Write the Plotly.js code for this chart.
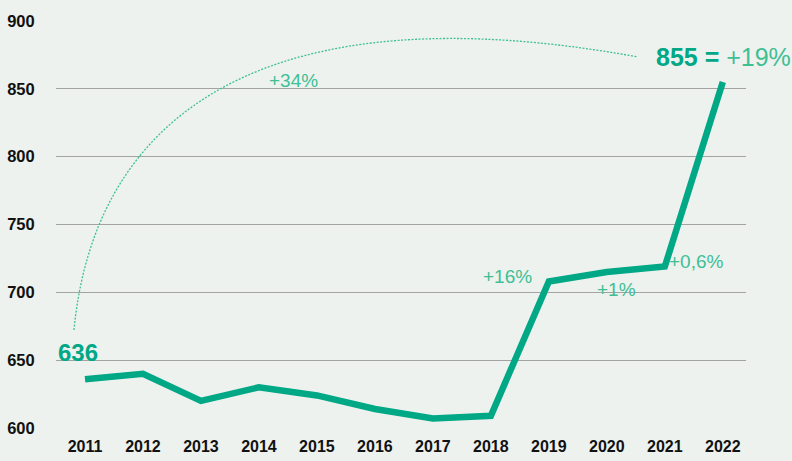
<!DOCTYPE html>
<html><head><meta charset="utf-8">
<script src="https://cdn.plot.ly/plotly-3.0.1.min.js"></script>
<style>html,body{margin:0;padding:0;background:#EDF2EF;}#c{width:792px;height:461px;}</style>
</head><body><div id="c"></div>
<script>
const years = [2011,2012,2013,2014,2015,2016,2017,2018,2019,2020,2021,2022];
const values = [636,640,620,630,624,614,607,609,708,715,719,855];
const yTicks = [600,650,700,750,800,850,900];
const growthLabels = ["+34%","+16%","+1%","+0,6%"];
const growthX = [2014.59,2018.29,2020.17,2021.55];
const growthY = [856,712,702,722.5];
const startLabel = "636";
const endLabel = "855 = ";
const endGrowth = "+19%";

const green = "#00A886";
const light = "#3FBF94";

const annotations = growthLabels.map((t,i)=>({
  x: growthX[i], y: growthY[i], xref:'x', yref:'y', text: t, showarrow:false,
  font:{family:'Liberation Sans, Arial', size:19, color:light}, xanchor:'center', yanchor:'middle'
}));
annotations.push({x:2010.5, y:656, xref:'x', yref:'y', text:'<b>'+startLabel+'</b>', showarrow:false,
  font:{family:'Liberation Sans, Arial', size:24, color:green}, xanchor:'left', yanchor:'middle'});
annotations.push({x:2020.81, y:873.5, xref:'x', yref:'y', text:'<b>'+endLabel+'</b><span style="color:'+light+';font-weight:normal">'+endGrowth+'</span>', showarrow:false,
  font:{family:'Liberation Sans, Arial', size:25, color:green}, xanchor:'left', yanchor:'middle'});

Plotly.newPlot('c', [{
  x: years, y: values, type:'scatter', mode:'lines',
  line:{color:green, width:6.5}, hoverinfo:'none'
}], {
  width:792, height:461,
  paper_bgcolor:'#EDF2EF', plot_bgcolor:'#EDF2EF',
  margin:{l:56, r:46, t:21, b:33},
  showlegend:false,
  xaxis:{range:[2010.5,2022.4], tickvals:years, ticktext:years.map(String), showgrid:false, zeroline:false,
    showline:false, ticks:'outside', ticklen:4, tickcolor:'rgba(0,0,0,0)',
    tickfont:{family:'Liberation Sans, Arial', size:16, color:'#111'}, fixedrange:true},
  yaxis:{range:[600,900], tickvals:yTicks, showgrid:true, gridcolor:'#A3A3A3', gridwidth:1.3, zeroline:false,
    ticks:'outside', ticklen:17, tickcolor:'rgba(0,0,0,0)',
    tickfont:{family:'Liberation Sans, Arial', size:16.5, color:'#111'}, fixedrange:true},
  shapes:[{type:'path', xref:'x', yref:'y',
    path:'M 2010.81,672.2 C 2011.172,834.4 2014.19,922.8 2020.534,873.5',
    line:{color:light, width:1.3, dash:'2px,1.5px'}}],
  annotations: annotations,
  font:{family:'Liberation Sans, Arial'}
}, {staticPlot:true});
document.querySelectorAll('.xtick text, .ytick text').forEach(t=>t.style.fontWeight='bold');
</script></body></html>
